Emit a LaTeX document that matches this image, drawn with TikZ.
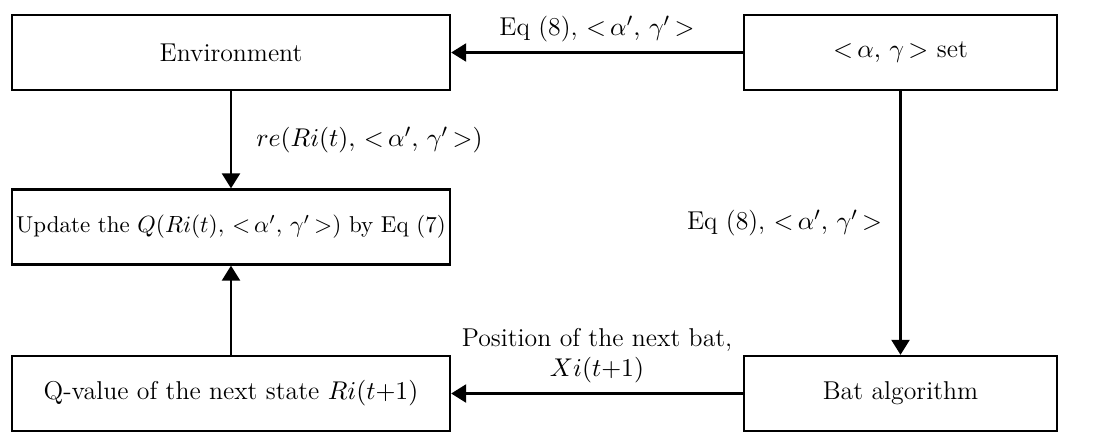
\documentclass[tikz,border=0pt]{standalone}
\usepackage{amsmath,amssymb}
\usepackage{tikz}
\usetikzlibrary{arrows.meta}

\newcommand{\pairp}{{<}\,\alpha',\,\gamma'\,{>}}

\begin{document}
\begin{tikzpicture}[x=0.015cm, y=0.015cm,
    font=\fontsize{11}{13}\selectfont,
    box/.style={draw, line width=1pt, minimum height=1.125cm, inner sep=1pt},
    widebox/.style={box, minimum width=6.57cm},
    smallbox/.style={box, minimum width=4.695cm},
    arr/.style={-{Triangle[length=6.4pt,width=7.7pt]}, line width=1pt}]
    \useasboundingbox (0,0) rectangle (1101,432);
    \node[widebox] (env) at (231,379.5) {Environment};
    \node[smallbox] (set) at (900.5,379.5) {${<}\,\alpha,\,\gamma\,{>}$ set};
    \node[widebox, font=\fontsize{9.8}{12}\selectfont] (update) at (231,205) {Update the $Q(Ri(t),\,\pairp)$ by Eq (7)};
    \node[widebox] (qval) at (231,38.5) {Q-value of the next state $Ri(t{+}1)$};
    \node[smallbox] (bat) at (900.5,38.5) {Bat algorithm};
    \draw[arr] (set) -- (env) node[midway, above, inner sep=4pt] {Eq (8), $\pairp$};
    \draw[arr] (env) -- (update) node[midway, right, xshift=7pt] {$re(Ri(t),\,\pairp)$};
    \draw[arr] (qval) -- (update);
    \draw[arr] (set) -- (bat) node[midway, left, xshift=-4pt] {Eq (8), $\pairp$};
    \draw[arr] (bat) -- (qval) node[midway, above, align=center, inner sep=4pt] {Position of the next bat,\\ $Xi(t{+}1)$};
\end{tikzpicture}
\end{document}
